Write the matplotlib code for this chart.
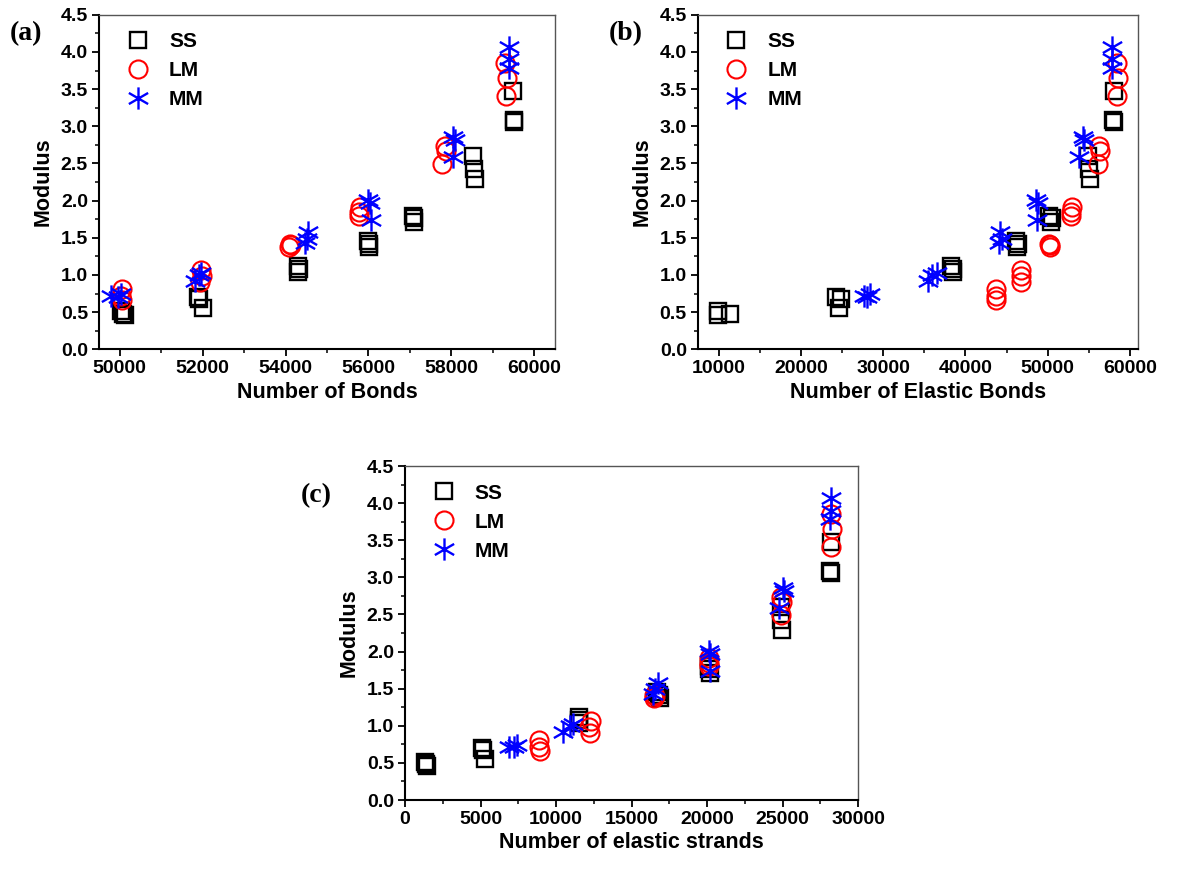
import math
import matplotlib
matplotlib.use('Agg')
import matplotlib.pyplot as plt
import matplotlib.path as mpath
from matplotlib.ticker import MultipleLocator, FormatStrFormatter

# modulus values, 3 runs per group (same points in all three panels)
ss_mod = [0.51, 0.46, 0.48, 0.70, 0.68, 0.55, 1.12, 1.08, 1.04, 1.46, 1.42, 1.38,
          1.80, 1.76, 1.71, 2.60, 2.43, 2.29, 3.47, 3.09, 3.06]
lm_mod = [0.81, 0.72, 0.66, 1.07, 0.98, 0.90, 1.42, 1.40, 1.38, 1.91, 1.85, 1.80,
          2.74, 2.67, 2.49, 3.85, 3.65, 3.41]
mm_mod = [0.72, 0.74, 0.71, 0.92, 1.00, 1.03, 1.58, 1.49, 1.43, 2.01, 1.97, 1.74,
          2.86, 2.81, 2.59, 4.07, 3.90, 3.78]

# number of bonds (panel a)
ss_bonds = [50020, 50120, 50080, 51880, 51920, 52000, 54300, 54320, 54300, 56000, 56020, 56010,
            57080, 57100, 57090, 58530, 58540, 58570, 59480, 59500, 59520]
lm_bonds = [50060, 50040, 50050, 51960, 51980, 51940, 54100, 54120, 54090, 55800, 55780, 55770,
            57850, 57870, 57770, 59300, 59330, 59320]
mm_bonds = [49800, 50040, 49960, 51810, 51900, 51970, 54550, 54520, 54480, 55990, 56030, 56060,
            58050, 58090, 58040, 59400, 59400, 59380]

# number of elastic bonds (panel b)
ss_elastic = [9950, 9950, 11400, 24300, 24900, 24700, 38300, 38500, 38450, 46200, 46400, 46300,
              50200, 50500, 50350, 54850, 55040, 55120, 58000, 57950, 58060]
lm_elastic = [43700, 43750, 43680, 46770, 46780, 46760, 50200, 50300, 50250, 52950, 52830, 52880,
              56250, 56330, 56170, 58470, 58550, 58470]
mm_elastic = [27650, 28400, 28000, 35400, 36000, 36500, 44200, 44400, 44100, 48600, 48800, 48750,
              54250, 54450, 53850, 57850, 57850, 57780]

# number of elastic strands (panel c)
ss_strands = [1300, 1450, 1400, 5100, 5150, 5270, 11500, 11550, 11520, 16700, 16800, 16880,
              20100, 20150, 20220, 24890, 24920, 24960, 28200, 28160, 28220]
lm_strands = [8890, 8900, 8930, 12290, 12180, 12270, 16500, 16560, 16520, 20100, 20110, 20150,
              24880, 24960, 24890, 28220, 28250, 28220]
mm_strands = [6900, 7400, 7200, 10450, 10900, 11100, 16750, 16550, 16450, 20100, 20200, 20220,
              25000, 25100, 24780, 28200, 28200, 28160]

series_names = ['SS', 'LM', 'MM']

# 6 arm asterisk like the Origin star marker
verts = []
codes = []
for a in [90, 30, 150]:
    r = math.radians(a)
    verts += [(math.cos(r), math.sin(r)), (-math.cos(r), -math.sin(r))]
    codes += [mpath.Path.MOVETO, mpath.Path.LINETO]
star = mpath.Path(verts, codes)

plt.rcParams['font.family'] = ['Liberation Sans', 'DejaVu Sans']
plt.rcParams['font.weight'] = 'bold'

fig = plt.figure(figsize=(11.86, 8.69), dpi=100)

# tag, axes rect, xlabel, x data, xlim, major step, minor step, tag position
panels = [
    ('(a)', [0.0835, 0.598, 0.3845, 0.385], 'Number of Bonds',
     (ss_bonds, lm_bonds, mm_bonds), (49500, 60500), 2000, 1000, (0.008, 0.961)),
    ('(b)', [0.5885, 0.598, 0.3712, 0.385], 'Number of Elastic Bonds',
     (ss_elastic, lm_elastic, mm_elastic), (7500, 61000), 10000, 5000, (0.513, 0.961)),
    ('(c)', [0.3415, 0.0794, 0.382, 0.3843], 'Number of elastic strands',
     (ss_strands, lm_strands, mm_strands), (0, 30000), 5000, 2500, (0.254, 0.430)),
]

for tag, pos, xlabel, xs, xlim, major, minor, tagpos in panels:
    ax = fig.add_axes(pos)
    ax.plot(xs[0], ss_mod, linestyle='none', marker='s', markersize=11,
            markerfacecolor='none', markeredgecolor='black', markeredgewidth=1.7, label=series_names[0])
    ax.plot(xs[1], lm_mod, linestyle='none', marker='o', markersize=13,
            markerfacecolor='none', markeredgecolor='red', markeredgewidth=1.5, label=series_names[1])
    ax.plot(xs[2], mm_mod, linestyle='none', marker=star, markersize=16,
            markerfacecolor='none', markeredgecolor='blue', markeredgewidth=1.7, label=series_names[2])

    ax.set_xlim(xlim)
    ax.set_ylim(0, 4.5)
    ax.xaxis.set_major_locator(MultipleLocator(major))
    ax.xaxis.set_minor_locator(MultipleLocator(minor))
    ax.yaxis.set_major_locator(MultipleLocator(0.5))
    ax.yaxis.set_minor_locator(MultipleLocator(0.25))
    ax.yaxis.set_major_formatter(FormatStrFormatter('%.1f'))
    ax.tick_params(which='major', direction='out', length=5, width=1.3, labelsize=14, pad=3)
    ax.tick_params(which='minor', direction='out', length=3, width=1.1)
    for lab in ax.get_xticklabels() + ax.get_yticklabels():
        lab.set_fontweight('bold')

    for side in ['left', 'bottom']:
        ax.spines[side].set_linewidth(1.5)
        ax.spines[side].set_color('black')
    for side in ['top', 'right']:
        ax.spines[side].set_linewidth(1.0)
        ax.spines[side].set_color('#555555')

    ax.set_xlabel(xlabel, fontsize=15.5, fontweight='bold', labelpad=3)
    ax.set_ylabel('Modulus', fontsize=15.5, fontweight='bold', labelpad=5)

    leg = ax.legend(loc='upper left', bbox_to_anchor=(0.03, 0.985), frameon=False,
                    fontsize=15, handlelength=1.2, handletextpad=0.9, labelspacing=0.48,
                    borderaxespad=0.2)
    for t in leg.get_texts():
        t.set_fontweight('bold')

    # panel letter, in bold serif
    fig.text(tagpos[0], tagpos[1], tag, fontsize=20, fontweight='bold',
             family=['Liberation Serif', 'DejaVu Serif'], ha='left', va='center')

fig.savefig('out.png', dpi=100)
